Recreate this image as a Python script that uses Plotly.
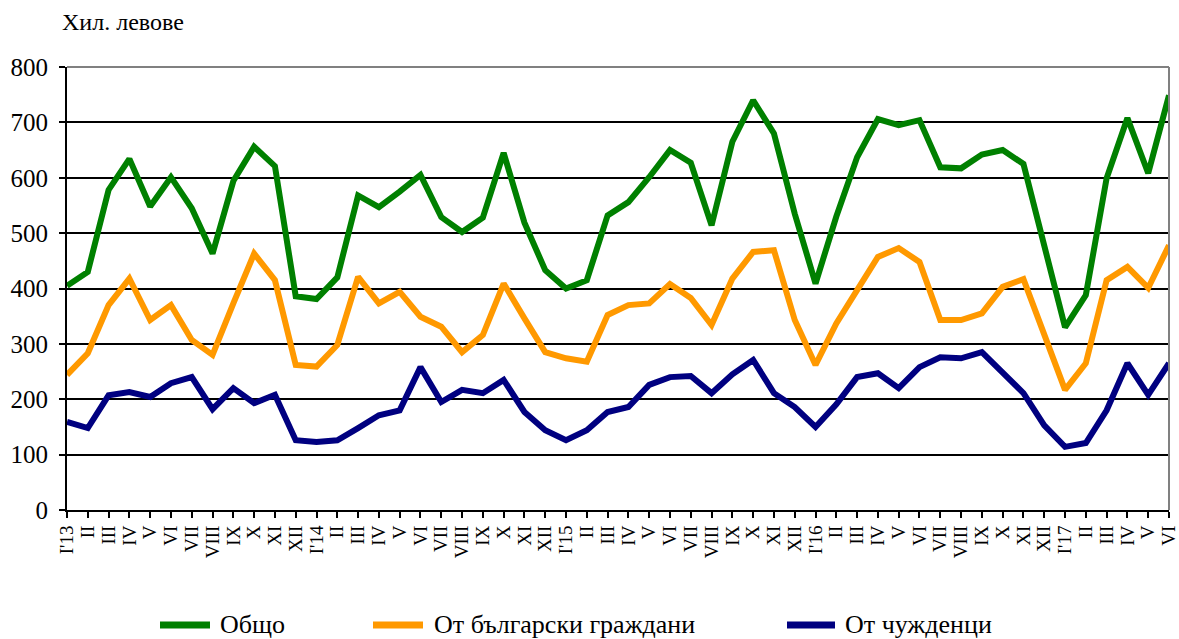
import plotly.graph_objects as go

labels = ["I'13", "II", "III", "IV", "V", "VI", "VII", "VIII", "IX", "X", "XI", "XII",
          "I'14", "II", "III", "IV", "V", "VI", "VII", "VIII", "IX", "X", "XI", "XII",
          "I'15", "II", "III", "IV", "V", "VI", "VII", "VIII", "IX", "X", "XI", "XII",
          "I'16", "II", "III", "IV", "V", "VI", "VII", "VIII", "IX", "X", "XI", "XII",
          "I'17", "II", "III", "IV", "V", "VI"]

total = [405, 430, 578, 634, 548, 601, 545, 463, 594, 656, 621, 386,
         381, 420, 568, 547, 575, 605, 529, 502, 528, 645, 519, 433,
         400, 415, 532, 556, 601, 650, 627, 514, 665, 740, 680, 535,
         409, 530, 637, 706, 695, 704, 619, 617, 642, 650, 625, 475,
         330, 388, 599, 708, 608, 749]

bulgarian = [244, 283, 370, 418, 343, 370, 307, 280, 373, 463, 415, 262,
             259, 298, 421, 373, 394, 349, 331, 285, 316, 409, 346, 285,
             274, 268, 352, 370, 373, 408, 383, 334, 418, 466, 469, 343,
             262, 337, 397, 457, 473, 448, 343, 343, 355, 403, 417, 318,
             217, 265, 415, 439, 401, 478]

foreign = [159, 148, 207, 213, 204, 229, 240, 182, 220, 193, 208, 126,
           123, 126, 148, 171, 180, 258, 195, 217, 211, 235, 177, 144,
           126, 144, 177, 186, 226, 240, 242, 211, 245, 271, 211, 186,
           150, 191, 240, 247, 220, 258, 276, 274, 285, 249, 211, 153,
           114, 121, 180, 265, 208, 265]

series_names = ["Общо", "От български граждани", "От чужденци"]
colors = ["#008000", "#FF9900", "#000080"]
y_label = "Хил. левове"
y_ticks = [0, 100, 200, 300, 400, 500, 600, 700, 800]

FONT = "Liberation Serif, Times New Roman, serif"
W, H = 1179, 639
L, R, T, B = 67, 10, 67, 129
pw, ph = W - L - R, H - T - B

xs = list(range(len(labels)))

fig = go.Figure()
for name, vals, col in zip(series_names, [total, bulgarian, foreign], colors):
    fig.add_trace(go.Scatter(x=xs, y=vals, mode="lines", name=name,
                             line=dict(color=col, width=6), showlegend=False,
                             cliponaxis=False, hoverinfo="skip"))

def px_x(p):
    return (p - L) / pw

def px_y(p):
    return (H - B - p) / ph

shapes = [
    # top and right plot border (gray)
    dict(type="line", xref="paper", yref="paper", x0=0, x1=1, y0=1, y1=1,
         line=dict(color="#808080", width=2), layer="above"),
    dict(type="line", xref="paper", yref="paper", x0=1, x1=1, y0=0, y1=1,
         line=dict(color="#808080", width=2), layer="above"),
]
annotations = [
    dict(text=y_label, xref="paper", yref="paper", x=px_x(60), y=px_y(22),
         xanchor="left", yanchor="middle", showarrow=False,
         font=dict(family=FONT, size=24, color="black")),
]

# legend drawn manually (Excel-style long line samples)
leg_pos = [(160, 210, 218), (373, 423, 432), (787, 835, 843)]
leg_y = 624
for (x0, x1, tx), name, col in zip(leg_pos, series_names, colors):
    shapes.append(dict(type="line", xref="paper", yref="paper",
                       x0=px_x(x0), x1=px_x(x1), y0=px_y(leg_y + 1), y1=px_y(leg_y + 1),
                       line=dict(color=col, width=7)))
    annotations.append(dict(text=name, xref="paper", yref="paper",
                            x=px_x(tx), y=px_y(leg_y), xanchor="left", yanchor="middle",
                            showarrow=False, font=dict(family=FONT, size=26, color="black")))

fig.update_layout(
    width=W, height=H,
    margin=dict(l=L, r=R, t=T, b=B, pad=0, autoexpand=False),
    paper_bgcolor="white", plot_bgcolor="white",
    font=dict(family=FONT, color="black"),
    shapes=shapes, annotations=annotations,
    showlegend=False,
)
fig.update_xaxes(
    range=[0, len(labels) - 1], tickmode="array", tickvals=xs, ticktext=labels,
    tickangle=-90, tickfont=dict(family=FONT, size=19, color="black"),
    showline=True, linecolor="black", linewidth=2,
    ticks="outside", ticklen=6, tickwidth=2, tickcolor="black",
    showgrid=False, zeroline=False, fixedrange=True,
    ticklabeloverflow="allow", automargin=False,
)
fig.update_yaxes(
    range=[0, 800], tickmode="array", tickvals=y_ticks,
    tickfont=dict(family=FONT, size=25, color="black"),
    showline=True, linecolor="black", linewidth=2,
    ticks="outside", ticklen=6, tickwidth=2, tickcolor="black",
    showgrid=True, gridcolor="black", gridwidth=2,
    zeroline=False, fixedrange=True, ticklabelstandoff=6, automargin=False,
)

fig.write_html("out.html", config={"displayModeBar": False},
               post_script="document.body.style.margin='0';document.body.style.overflow='hidden';")
